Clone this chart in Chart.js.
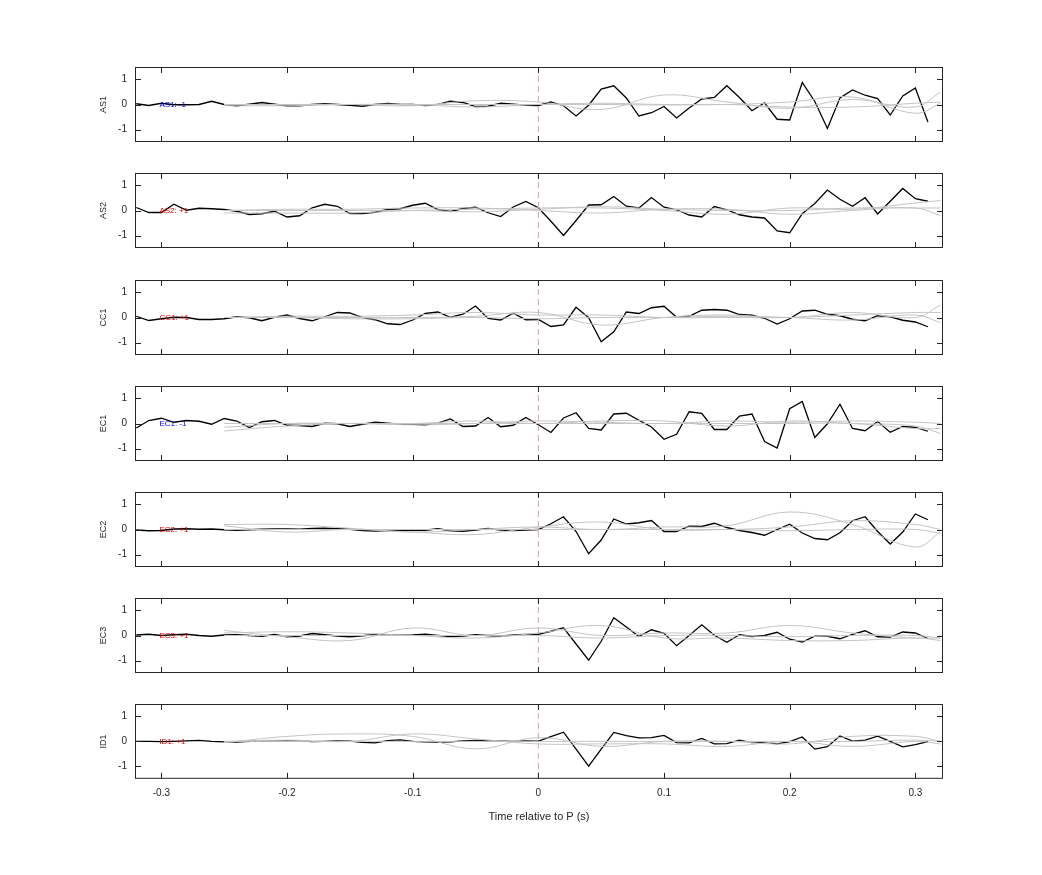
<!DOCTYPE html>
<html>
<head>
<meta charset="utf-8">
<script src="https://cdn.jsdelivr.net/npm/chart.js@4.4.1/dist/chart.umd.min.js"></script>
<style>
  body { margin: 0; background: #fff; width: 1042px; height: 875px; position: relative; overflow: hidden; }
  .panel { position: absolute; left: 98px; width: 944px; }
</style>
</head>
<body>
<script>
const times = [-0.32,-0.31,-0.30,-0.29,-0.28,-0.27,-0.26,-0.25,-0.24,-0.23,-0.22,-0.21,-0.20,-0.19,-0.18,-0.17,
  -0.16,-0.15,-0.14,-0.13,-0.12,-0.11,-0.10,-0.09,-0.08,-0.07,-0.06,-0.05,-0.04,-0.03,-0.02,-0.01,
  0.00,0.01,0.02,0.03,0.04,0.05,0.06,0.07,0.08,0.09,0.10,0.11,0.12,0.13,0.14,0.15,
  0.16,0.17,0.18,0.19,0.20,0.21,0.22,0.23,0.24,0.25,0.26,0.27,0.28,0.29,0.30,0.31];
const grayTimes = [-0.25,-0.2,-0.15,-0.1,-0.05,0,0.05,0.1,0.15,0.2,0.25,0.3,0.32];
const xTicks = [-0.3,-0.2,-0.1,0,0.1,0.2,0.3];
const yTicks = [-1,0,1];

const channels = ["AS1","AS2","CC1","EC1","EC2","EC3","ID1"];
const signs = ["-1","+1","+1","-1","+1","+1","+1"];

const as1 = [0.03,-0.04,0.05,-0.01,-0.01,0,0.13,0,-0.05,0.01,0.08,0.01,-0.05,-0.05,0,0.03,
  0,-0.03,-0.07,0,0.04,0,0,-0.04,0,0.13,0.08,-0.08,-0.07,0.05,0.01,-0.03,
  -0.04,0.1,-0.05,-0.46,-0.03,0.62,0.75,0.26,-0.46,-0.33,-0.08,-0.54,-0.14,0.22,0.28,0.75,
  0.28,-0.25,0.07,-0.59,-0.62,0.88,0.12,-0.96,0.26,0.58,0.37,0.24,-0.42,0.34,0.66,-0.7];
const as2 = [0.12,-0.08,-0.08,0.25,0.01,0.09,0.07,0.04,-0.03,-0.16,-0.13,-0.03,-0.26,-0.21,0.11,0.25,
  0.17,-0.12,-0.12,-0.07,0.04,0.07,0.21,0.29,0.04,-0.04,0.08,0.13,-0.09,-0.24,0.14,0.36,
  0.11,-0.43,-1.0,-0.4,0.22,0.23,0.56,0.17,0.1,0.52,0.13,0.03,-0.18,-0.26,0.16,0.03,
  -0.17,-0.26,-0.3,-0.82,-0.89,-0.13,0.28,0.82,0.45,0.17,0.51,-0.14,0.37,0.88,0.47,0.37];
const cc1 = [0.05,-0.12,-0.05,0.01,0,-0.08,-0.08,-0.05,0.03,-0.01,-0.13,0.01,0.1,-0.04,-0.13,0.03,
  0.2,0.18,0,-0.09,-0.25,-0.28,-0.1,0.16,0.22,0.01,0.13,0.46,-0.04,-0.1,0.17,-0.09,
  -0.08,-0.36,-0.3,0.41,-0.01,-0.97,-0.57,0.22,0.16,0.39,0.45,0.01,0.05,0.29,0.32,0.29,
  0.12,0.09,-0.03,-0.26,-0.05,0.26,0.29,0.13,0.07,-0.07,-0.13,0.07,0.03,-0.11,-0.18,-0.37];
const ec1 = [-0.18,0.12,0.21,0.05,0.12,0.09,-0.03,0.2,0.1,-0.16,0.07,0.12,-0.07,-0.08,-0.12,0.01,
  -0.01,-0.12,-0.03,0.05,0.01,-0.03,-0.03,-0.05,0.02,0.18,-0.12,-0.1,0.24,-0.13,-0.07,0.24,
  -0.05,-0.36,0.22,0.43,-0.2,-0.26,0.38,0.41,0.13,-0.14,-0.63,-0.43,0.47,0.41,-0.24,-0.24,
  0.3,0.38,-0.72,-0.98,0.59,0.88,-0.56,-0.01,0.77,-0.2,-0.29,0.08,-0.35,-0.12,-0.16,-0.31];
const ec2 = [-0.02,-0.05,-0.04,0.02,0.03,0.01,0.02,-0.01,-0.03,-0.01,0.01,0.02,0.02,0.01,0.04,0.05,
  0.03,0.01,-0.04,-0.06,-0.04,-0.03,-0.02,-0.03,0.03,-0.05,-0.07,-0.02,0.04,-0.02,-0.04,-0.02,
  0,0.23,0.51,-0.08,-0.97,-0.42,0.42,0.22,0.27,0.36,-0.08,-0.08,0.13,0.12,0.25,0.08,
  -0.04,-0.12,-0.23,0,0.21,-0.14,-0.36,-0.41,-0.13,0.35,0.51,-0.08,-0.58,-0.1,0.62,0.39];
const ec3 = [0.02,0.05,0,0.03,0.05,0,-0.03,0.02,0.03,0,-0.03,0.04,-0.05,-0.02,0.08,0.03,
  -0.02,-0.05,-0.01,0.04,0.03,0.01,0.02,0.05,0,-0.04,-0.02,0.03,0,-0.03,0.02,0.04,
  0.05,0.17,0.31,-0.34,-0.99,-0.23,0.71,0.34,-0.04,0.23,0.09,-0.41,0,0.43,0.01,-0.27,
  0.03,-0.04,0,0.13,-0.15,-0.26,-0.03,-0.03,-0.13,0.05,0.19,-0.05,-0.06,0.14,0.1,-0.12];
const id1 = [0,0,-0.01,0,0.02,0.04,0,-0.02,-0.03,0,0.02,0.01,0.03,0.02,-0.01,0,
  0.02,0.01,-0.04,-0.06,0.03,0.06,0,-0.02,-0.03,-0.02,0.02,0.04,0.02,0.01,0,0.02,
  0.01,0.19,0.37,-0.31,-0.99,-0.31,0.36,0.23,0.14,0.15,0.24,-0.05,-0.06,0.12,-0.1,-0.09,
  0.05,-0.05,-0.03,-0.1,-0.01,0.18,-0.31,-0.21,0.22,0.01,0.05,0.21,0,-0.22,-0.13,-0.01];
const blackSeries = [as1, as2, cc1, ec1, ec2, ec3, id1];

const grayAS1 = [[0,0,0,-0.05,0.15,0.1,-0.2,0.38,0.1,-0.15,0.2,-0.1,0.5],
  [-0.05,-0.05,0,0,-0.1,0,0.05,0,0,0.1,0.3,-0.35,0.05],
  [0,0,0,0,0,0,0,-0.02,0,-0.1,-0.1,0.05,0.1]];
const grayAS2 = [[-0.1,-0.1,-0.1,0,0.05,0.1,0.1,0,-0.15,0.1,0.05,0.3,0.4],
  [0,0.05,0.05,0.1,0.1,0,-0.1,0.05,0.05,-0.15,0,0.1,-0.2],
  [0,0,0,0,-0.05,0.05,0.15,0.05,0,0,0.1,0.1,0.1]];
const grayCC1 = [[0,0,0,0,0.05,0.2,-0.3,0,0.1,0,0.2,0,0.5],
  [0,0.05,0.05,0.1,0.2,0.1,0.1,0,0,0,0.1,0.2,0.2],
  [0,0,-0.05,-0.05,0,-0.05,0,0,0.05,0,-0.1,0.1,-0.2]];
const grayEC1 = [[-0.3,-0.1,0,0,0.1,0,0.1,0.1,-0.1,0.1,0,-0.1,-0.4],
  [-0.15,0,0,-0.05,0,0.1,0.05,0,0.1,0.05,0.1,0.05,0],
  [0,0,0,0,0,0,0,0,0,0,0,-0.2,-0.2]];
const grayEC2 = [[0.2,0.2,0.05,-0.1,0,0.1,0,0.1,0.15,0.7,0.2,-0.7,-0.1],
  [0.15,-0.1,0,-0.1,-0.2,0.1,0.3,0,0,0.1,0.35,0.2,0],
  [0,0,0,0,0,0,0,0,0,-0.05,0,0,-0.15]];
const grayEC3 = [[0.2,-0.05,-0.2,0.3,0,0.3,0,0.1,0.1,0.4,0.1,-0.1,-0.1],
  [0.1,0.15,0.1,0,-0.1,0.1,0.4,-0.1,-0.1,-0.2,-0.2,-0.1,-0.2],
  [0,0,0,0,0,0,-0.1,0,0,-0.05,0,0,-0.1]];
const grayID1 = [[-0.05,0.2,0.3,0.2,-0.3,0.15,-0.2,0,0,-0.1,0.2,0.2,0],
  [0,0.05,0,0.3,0.1,-0.1,-0.1,-0.1,-0.2,0,-0.2,0,-0.1],
  [0,0,0,0,0,0,0,0,0,0,0,0.05,0]];
const graySeries = [grayAS1, grayAS2, grayCC1, grayEC1, grayEC2, grayEC3, grayID1];

const panelTop = [67, 173, 280, 386, 492, 598, 704];
const panelH = 74;
const fontName = "'Liberation Sans', Arial, sans-serif";

// box, inward ticks and the channel tag
const framePlugin = {
  id: "frame",
  afterDatasetsDraw(chart, args, opts) {
    const { ctx, chartArea: a, scales } = chart;
    ctx.save();
    ctx.strokeStyle = "#262626";
    ctx.lineWidth = 1;
    ctx.strokeRect(a.left + 0.5, a.top + 0.5, a.right - a.left - 1, a.bottom - a.top - 1);
    ctx.beginPath();
    xTicks.forEach(t => {
      const x = Math.round(scales.x.getPixelForValue(t)) + 0.5;
      ctx.moveTo(x, a.top); ctx.lineTo(x, a.top + 6);
      ctx.moveTo(x, a.bottom); ctx.lineTo(x, a.bottom - 6);
    });
    yTicks.forEach(t => {
      const y = Math.round(scales.y.getPixelForValue(t)) + 0.5;
      ctx.moveTo(a.left, y); ctx.lineTo(a.left + 6, y);
      ctx.moveTo(a.right, y); ctx.lineTo(a.right - 6, y);
    });
    ctx.stroke();
    ctx.fillStyle = opts.color;
    ctx.font = "8px " + fontName;
    ctx.textBaseline = "middle";
    ctx.fillText(opts.text, scales.x.getPixelForValue(-0.3) - 2, scales.y.getPixelForValue(0));
    ctx.restore();
  }
};

channels.forEach((name, i) => {
  const last = i === channels.length - 1;
  const div = document.createElement("div");
  div.className = "panel";
  div.style.top = (panelTop[i] - 14) + "px";
  div.style.height = (last ? panelH + 64 : panelH + 29) + "px";
  const cv = document.createElement("canvas");
  div.appendChild(cv);
  document.body.appendChild(div);

  const datasets = [];
  graySeries[i].forEach(g => {
    datasets.push({
      data: g.map((v, k) => ({ x: grayTimes[k], y: v })),
      borderColor: "#c4c4c4", borderWidth: 1, pointRadius: 0, tension: 0.4
    });
  });
  datasets.push({
    data: [{ x: 0, y: -1.5 }, { x: 0, y: 1.5 }],
    borderColor: "#d9a3a3", borderWidth: 1, borderDash: [6, 4], pointRadius: 0
  });
  datasets.push({
    data: blackSeries[i].map((v, k) => ({ x: times[k], y: v })),
    borderColor: "#000", borderWidth: 1.3, pointRadius: 0, tension: 0
  });

  new Chart(cv, {
    type: "line",
    data: { datasets },
    options: {
      responsive: true, maintainAspectRatio: false, animation: false,
      layout: { padding: { top: 0, right: 99, bottom: 0, left: 0 } },
      plugins: {
        legend: { display: false }, tooltip: { enabled: false },
        frame: { text: name + ": " + signs[i], color: signs[i] === "-1" ? "#0000ee" : "#dd0000" }
      },
      scales: {
        x: {
          type: "linear", min: -0.321, max: 0.322,
          display: last,
          afterBuildTicks: s => { s.ticks = xTicks.map(v => ({ value: v })); },
          grid: { display: false, drawTicks: false },
          border: { display: false },
          ticks: { color: "#262626", font: { size: 10, family: fontName }, padding: 8,
                   callback: v => String(v) },
          title: { display: last, text: "Time relative to P (s)", color: "#262626",
                   font: { size: 11, family: fontName }, padding: { top: 4 } }
        },
        y: {
          min: -1.5, max: 1.5,
          afterBuildTicks: s => { s.ticks = yTicks.map(v => ({ value: v })); },
          afterFit: s => { s.width = 37; },
          grid: { display: false, drawTicks: false },
          border: { display: false },
          ticks: { color: "#262626", font: { size: 10, family: fontName }, padding: 8 },
          title: { display: true, text: name, color: "#262626",
                   font: { size: 9, family: fontName }, padding: 0 }
        }
      }
    },
    plugins: [framePlugin]
  });
});
</script>
</body>
</html>
